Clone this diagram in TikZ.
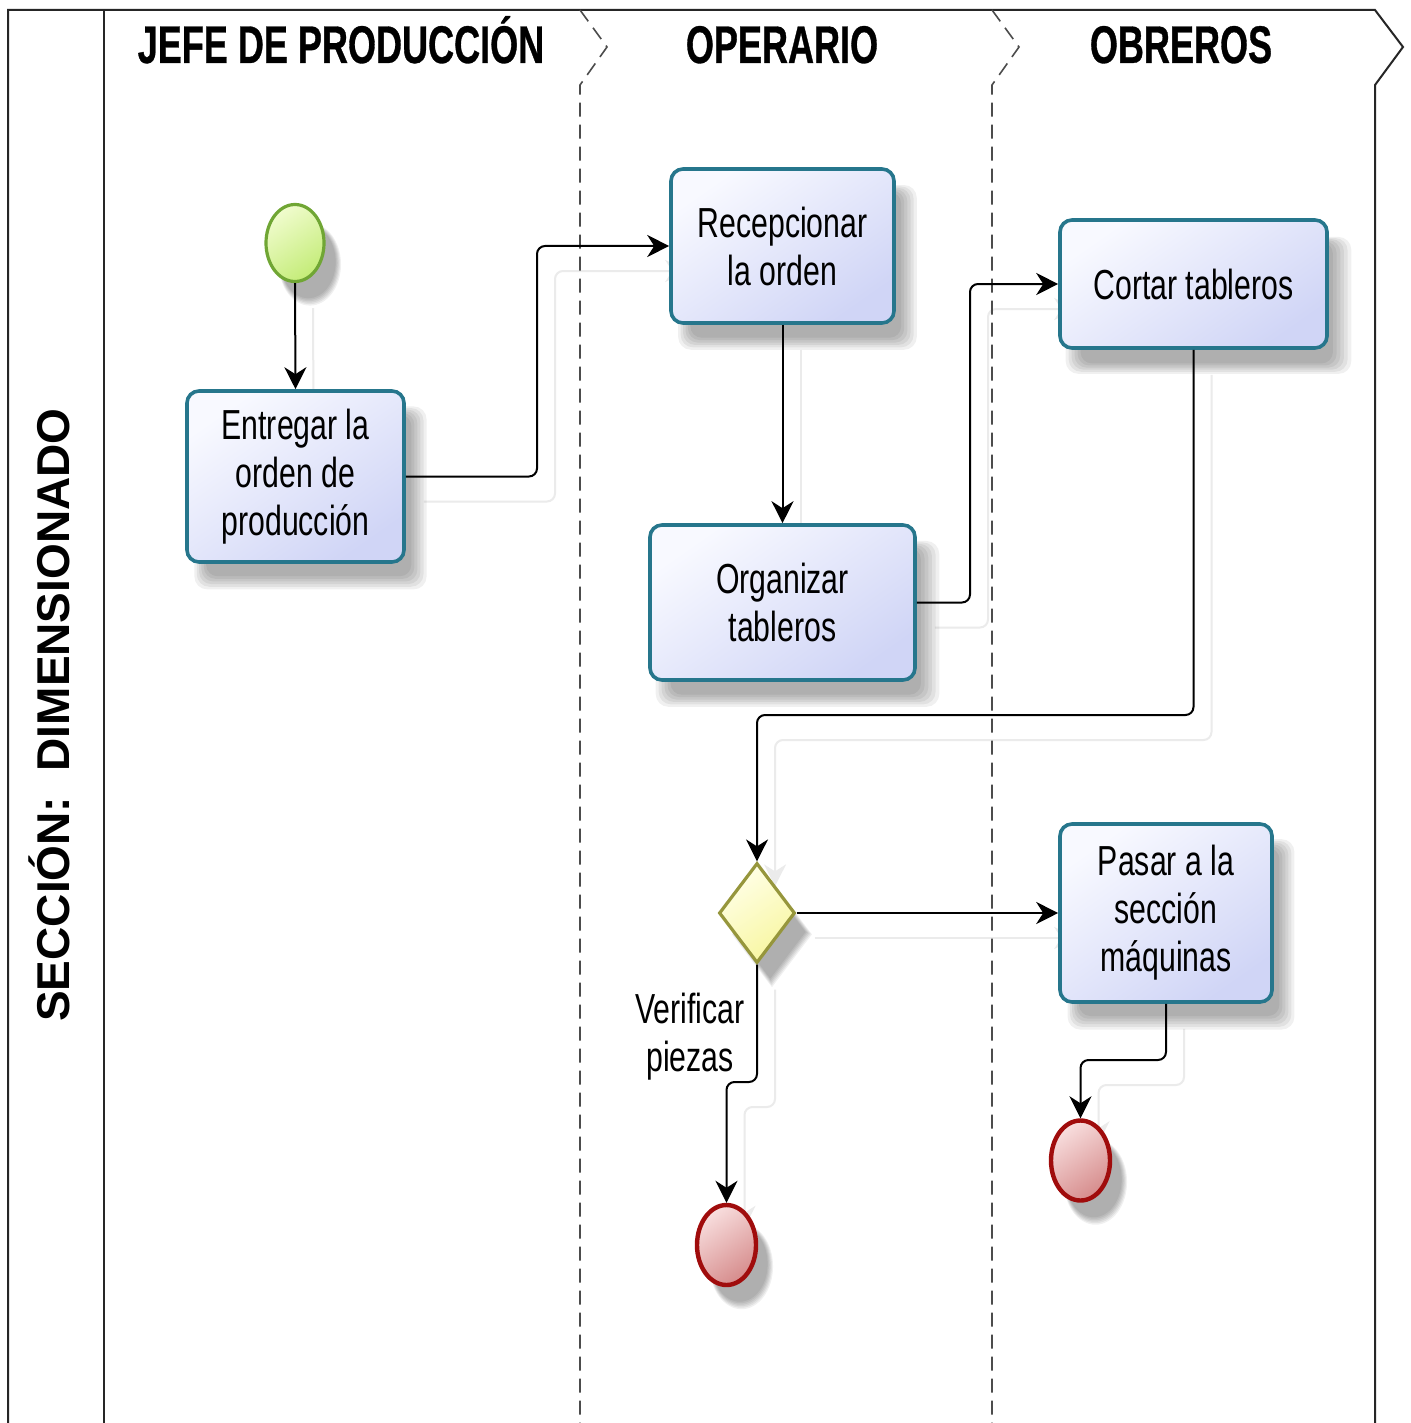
\documentclass[tikz,border=0pt]{standalone}
\usepackage{fontspec}
\setmainfont{Liberation Sans}
\newfontfamily\boxfont{Liberation Sans}[FakeStretch=0.72]
\newfontfamily\headfont{Liberation Sans}[FakeStretch=0.68,FakeBold=0.6]
\usetikzlibrary{shapes.geometric,arrows.meta,shadows}
\pgfdeclarelayer{background}
\pgfsetlayers{background,main}

\definecolor{taskline}{RGB}{38,118,140}
\definecolor{tasktop}{RGB}{248,249,255}
\definecolor{taskbot}{RGB}{208,213,246}
\definecolor{startline}{RGB}{112,166,52}
\definecolor{starttop}{RGB}{240,252,205}
\definecolor{startbot}{RGB}{196,236,120}
\definecolor{endline}{RGB}{160,12,12}
\definecolor{endtop}{RGB}{248,222,222}
\definecolor{endbot}{RGB}{214,140,140}
\definecolor{gateline}{RGB}{150,150,60}
\definecolor{gatetop}{RGB}{255,255,232}
\definecolor{gatebot}{RGB}{248,246,160}

\begin{document}
\begin{tikzpicture}[x=0.5pt,y=-0.5pt,
  frameline/.style={line width=1pt, black!85},
  lanesep/.style={line width=0.8pt, black!70, dash pattern=on 7pt off 4pt},
  % soft drop shadow built from stacked translucent copies of the shape
  shadowlayer/.style={general shadow={shadow xshift=7pt, shadow yshift=-10pt,
      shadow scale=#1, fill=black, draw=none, opacity=0.06}},
  softshadow/.style={shadowlayer=1.07, shadowlayer=1.045, shadowlayer=1.02,
      shadowlayer=0.995, shadowlayer=0.97, shadowlayer=0.945},
  task/.style={rectangle, rounded corners=6pt, draw=taskline, line width=1.8pt,
      top color=tasktop, bottom color=taskbot, shading angle=35,
      align=center, inner sep=0pt, softshadow,
      font=\boxfont\fontsize{21}{24}\selectfont},
  startev/.style={ellipse, draw=startline, line width=1.6pt, inner sep=0pt,
      top color=starttop, bottom color=startbot, shading angle=35, softshadow},
  endev/.style={ellipse, draw=endline, line width=2.2pt, inner sep=0pt,
      top color=endtop, bottom color=endbot, shading angle=35, softshadow},
  gate/.style={diamond, draw=gateline, line width=1.6pt, inner sep=0pt,
      top color=gatetop, bottom color=gatebot, shading angle=35, softshadow},
  lanetitle/.style={anchor=base, font=\headfont\bfseries\fontsize{26.5}{30}\selectfont},
  flow/.style={line width=1pt, black, rounded corners=4pt,
      -{Stealth[length=11pt,width=11pt,inset=3.5pt]}},
  ghost/.style={line width=1pt, black!8, rounded corners=4pt,
      -{Stealth[length=11pt,width=11pt,inset=3.5pt]}},
  note/.style={align=center, font=\boxfont\fontsize{21}{24}\selectfont}]

\useasboundingbox (0,0) rectangle (1410,1423);
\begin{pgfonlayer}{background}
  \fill[white] (0,0) rectangle (1410,1423);
\end{pgfonlayer}

% pool frame and lane borders
\draw[frameline] (8,1423) -- (8,10) -- (1375,10) -- (1403,47) -- (1375,85) -- (1375,1423);
\draw[frameline] (104,10) -- (104,1423);
\draw[lanesep] (580,10) -- (607,47) -- (580,85) -- (580,1423);
\draw[lanesep] (992,10) -- (1019,47) -- (992,85) -- (992,1423);

% pool and lane titles
\node[rotate=90, anchor=base, font=\bfseries\fontsize{23}{26}\selectfont] (pool) at (69,715) {SECCIÓN:\ \ DIMENSIONADO};
\node[lanetitle] (l1) at (341,63) {JEFE DE PRODUCCIÓN};
\node[lanetitle] (l2) at (782,63) {OPERARIO};
\node[lanetitle] (l3) at (1181,63) {OBREROS};

% events, tasks and gateway
\node[startev, minimum width=29pt, minimum height=38.5pt] (s) at (295,243) {};
\node[task, minimum width=108.5pt, minimum height=85.5pt] (b1) at (295.5,476.5) {Entregar la\\orden de\\producción};
\node[task, minimum width=111.5pt, minimum height=77pt] (b2) at (782.5,246) {Recepcionar\\la orden};
\node[task, minimum width=132.5pt, minimum height=77.5pt] (b3) at (782.5,602.5) {Organizar\\tableros};
\node[task, minimum width=133.5pt, minimum height=64pt] (b4) at (1193.5,284) {Cortar tableros};
\node[task, minimum width=106pt, minimum height=89pt] (b5) at (1166,913) {Pasar a la\\sección\\máquinas};
\node[gate, minimum width=38pt, minimum height=50pt] (g) at (757,913) {};
\node[endev, minimum width=29.5pt, minimum height=40pt] (e1) at (726.5,1245) {};
\node[endev, minimum width=29.5pt, minimum height=40pt] (e2) at (1080.5,1160.5) {};
\node[note] (v) at (690,1037) {Verificar\\piezas};

% faint offset copies of the sequence flows
\begin{pgfonlayer}{background}
  \draw[ghost] ([shift={(18,25)}]s.south) -- ([shift={(18,25)}]b1.north);
  \draw[ghost] ([shift={(18,25)}]b1.east) -- (555,501.5) -- (555,271) -- ([shift={(18,25)}]b2.west);
  \draw[ghost] ([shift={(18,25)}]b2.south) -- ([shift={(18,25)}]b3.north);
  \draw[ghost] ([shift={(18,25)}]b3.east) -- (988,627.5) -- (988,309) -- ([shift={(18,25)}]b4.west);
  \draw[ghost] ([shift={(18,25)}]b4.south) -- (1211.5,740) -- (775,740) -- ([shift={(18,25)}]g.north);
  \draw[ghost] ([shift={(18,25)}]g.east) -- ([shift={(18,25)}]b5.west);
  \draw[ghost] ([shift={(18,25)}]g.south) -- (775,1107) -- (744.5,1107) -- ([shift={(18,25)}]e1.north);
  \draw[ghost] ([shift={(18,25)}]b5.south) -- (1184,1085) -- (1098.5,1085) -- ([shift={(18,25)}]e2.north);
\end{pgfonlayer}

% sequence flows
\draw[flow] (s.south) -- (b1.north);
\draw[flow] (b1.east) -- (537,476.5) -- (537,246) -- (b2.west);
\draw[flow] (b2.south) -- (b3.north);
\draw[flow] (b3.east) -- (970,602.5) -- (970,284) -- (b4.west);
\draw[flow] (b4.south) -- (1193.5,715) -- (757,715) -- (g.north);
\draw[flow] (g.east) -- (b5.west);
\draw[flow] (g.south) -- (757,1082) -- (726.5,1082) -- (e1.north);
\draw[flow] (b5.south) -- (1166,1060) -- (1080.5,1060) -- (e2.north);
\end{tikzpicture}
\end{document}
